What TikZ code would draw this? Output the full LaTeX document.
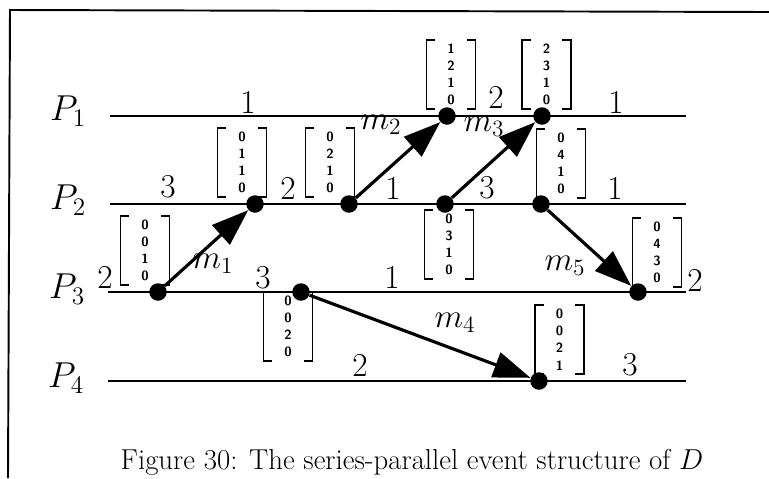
\RequirePackage{fix-cm}
\documentclass[tikz,border=0pt]{standalone}
\usetikzlibrary{arrows.meta}
\tikzset{
  evt/.style={circle,fill=black,inner sep=0pt,minimum size=0.35cm},
  proc/.style={line width=1.6pt},
  msg/.style={line width=1.8pt,-{Triangle[length=0.74cm,width=0.52cm]}},
  vecnode/.style={inner sep=0pt,minimum width=1.02cm,minimum height=1.42cm,align=center,
    font=\fontsize{7.6}{9.8}\selectfont\sffamily\bfseries,
    path picture={
      \draw[line width=1.1pt]
        ([xshift=5.5pt,yshift=-0.55pt]path picture bounding box.north west) -|
        ([xshift=0.55pt,yshift=0.55pt]path picture bounding box.south west) -- ++(5pt,0);
      \draw[line width=1.1pt]
        ([xshift=-5.5pt,yshift=-0.55pt]path picture bounding box.north east) -|
        ([xshift=-0.55pt,yshift=0.55pt]path picture bounding box.south east) -- ++(-5pt,0);
    }}
}

\begin{document}
\begin{tikzpicture}[
  x=0.02cm,y=-0.02cm,
  plbl/.style={font=\fontsize{20.5}{24}\selectfont,inner sep=0pt},
  num/.style={font=\fontsize{19}{22}\selectfont,inner sep=0pt},
  mlbl/.style={font=\fontsize{19}{22}\selectfont,inner sep=0pt}
]
\useasboundingbox (0,0) rectangle (769,478);

% Frame
\coordinate (fbl) at (8,478);
\coordinate (ftl) at (10,10);
\coordinate (ftr) at (769,12);
\draw[line width=1.1pt] (fbl) -- (ftl) -- (ftr);

% Processes
\node[plbl] (P1) at (68,111) {$P_1$};
\node[plbl] (P2) at (68,200) {$P_2$};
\node[plbl] (P3) at (67,289) {$P_3$};
\node[plbl] (P4) at (66,378) {$P_4$};
\coordinate (p1s) at (110,116); \coordinate (p1e) at (686,116);
\coordinate (p2s) at (110,204); \coordinate (p2e) at (686,204);
\coordinate (p3s) at (108,292); \coordinate (p3e) at (686,292);
\coordinate (p4s) at (108,381); \coordinate (p4e) at (686,381);
\draw[proc] (p1s) -- (p1e);
\draw[proc] (p2s) -- (p2e);
\draw[proc] (p3s) -- (p3e);
\draw[proc] (p4s) -- (p4e);

% State vectors
\node[vecnode] (v1210) at (451,74.5) {1\\2\\1\\0};
\node[vecnode] (v2310) at (546.5,74.5) {2\\3\\1\\0};
\node[vecnode] (v0110) at (242,162.5) {0\\1\\1\\0};
\node[vecnode] (v0210) at (330,162.5) {0\\2\\1\\0};
\node[vecnode] (v0410) at (561,163.5) {0\\4\\1\\0};
\node[vecnode] (v0310) at (449,244.5) {0\\3\\1\\0};
\node[vecnode] (v0010) at (145,250.5) {0\\0\\1\\0};
\node[vecnode] (v0430) at (657,252.5) {0\\4\\3\\0};
\node[vecnode] (v0020) at (288,326.5) {0\\0\\2\\0};
\node[vecnode] (v0021) at (559.5,339.5) {0\\0\\2\\1};

% Interval counts
\node[num] (n11) at (248,102) {1};
\node[num] (n12) at (496,97) {2};
\node[num] (n13) at (616,102) {1};
\node[num] (n21) at (168,187) {3};
\node[num] (n22) at (288,188) {2};
\node[num] (n23) at (393,188) {1};
\node[num] (n24) at (487,188) {3};
\node[num] (n25) at (615,188) {1};
\node[num] (n31) at (105,277) {2};
\node[num] (n32) at (263,278) {3};
\node[num] (n33) at (392,277) {1};
\node[num] (n34) at (695,280) {2};
\node[num] (n41) at (360,365) {2};
\node[num] (n42) at (630,365) {3};

% Events
\node[evt] (a1) at (447,116) {};
\node[evt] (a2) at (542,116) {};
\node[evt] (b1) at (255,204) {};
\node[evt] (b2) at (349,204) {};
\node[evt] (b3) at (445,204) {};
\node[evt] (b4) at (541,204) {};
\node[evt] (c1) at (158,292) {};
\node[evt] (c2) at (301,292) {};
\node[evt] (c3) at (638,292) {};
\node[evt] (d1) at (539,381) {};

% Messages
\draw[msg] (c1) -- (b1);
\draw[msg] (b2) -- (a1);
\draw[msg] (b3) -- (a2);
\draw[msg] (c2) -- (d1);
\draw[msg] (b4) -- (c3);
\node[mlbl] (m1) at (213,264) {$m_1$};
\node[mlbl] (m2) at (381,125) {$m_2$};
\node[mlbl] (m3) at (484,127) {$m_3$};
\node[mlbl] (m4) at (455,323) {$m_4$};
\node[mlbl] (m5) at (565,266) {$m_5$};

% Caption
\node[font=\fontsize{16.4}{19}\selectfont,anchor=base] (cap) at (412,469)
  {Figure 30: The series-parallel event structure of $D$};

\end{tikzpicture}
\end{document}
